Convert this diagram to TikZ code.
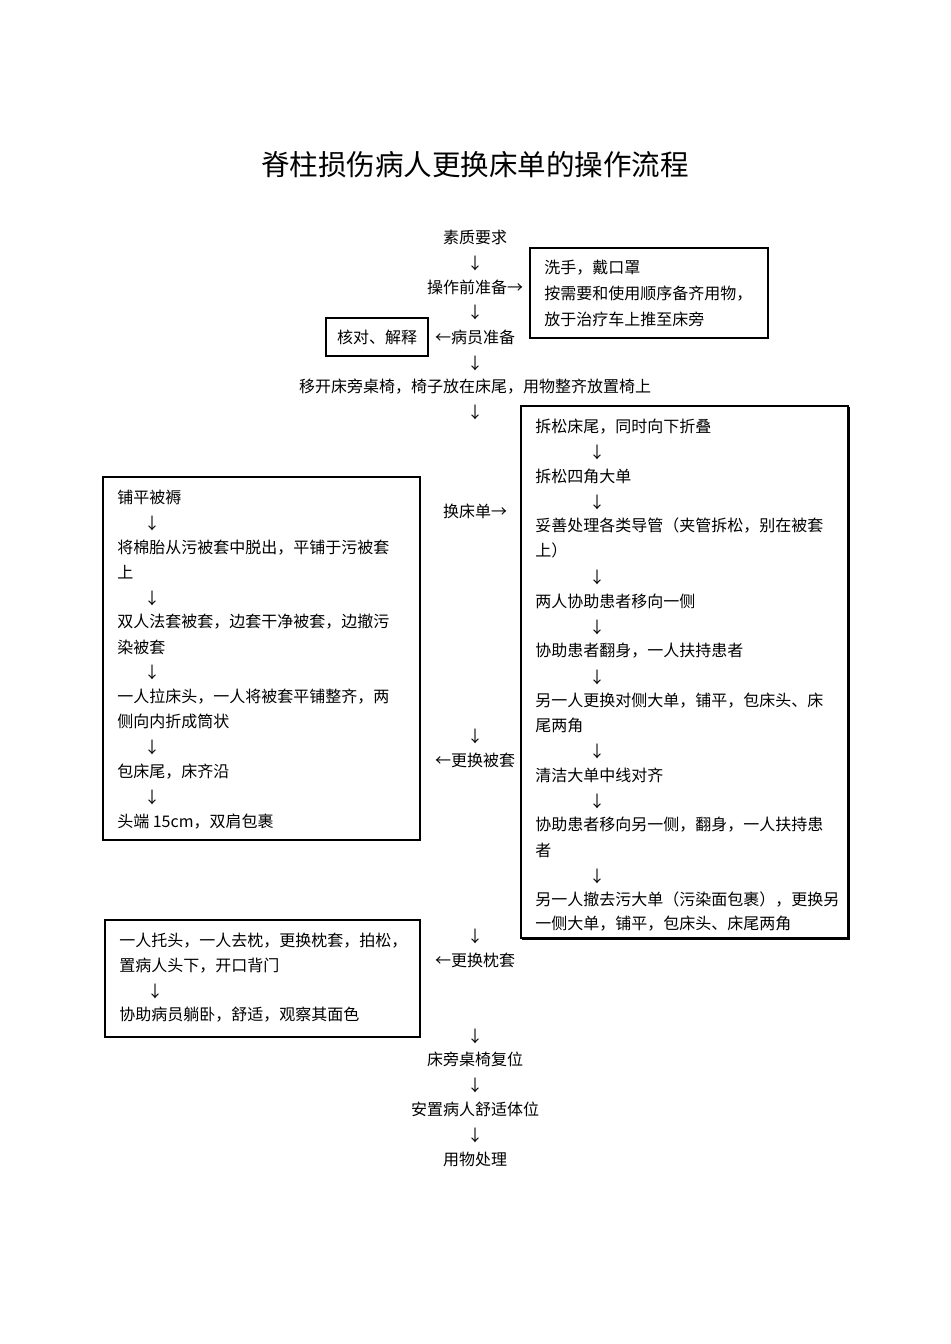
\documentclass[tikz,border=0pt]{standalone}
\usepackage{fontspec}
\setmainfont{Noto Sans CJK SC}
\begin{document}
\begin{tikzpicture}[x=0.75pt,y=-0.75pt,
  txt/.style={inner sep=0pt,font=\fontsize{12}{12}\selectfont},
  lt/.style={txt,anchor=west},
  frame/.style={draw,line width=0.8pt}]
\useasboundingbox[fill=white] (0,0) rectangle (950,1344);
\node[txt,font=\fontsize{21.4}{22}\selectfont] (title) at (475,165) {脊柱损伤病人更换床单的操作流程};
% centre column
\foreach \n/\y/\t in {c1/237/素质要求, c2/263/↓, c3/287/操作前准备→, c4/312/↓, c6/363/↓,
  c7/387/{移开床旁桌椅，椅子放在床尾，用物整齐放置椅上}, c8/412/↓, c9/511/换床单→,
  c10/736/↓, c11/760/←更换被套, c12/936/↓, c13/960/←更换枕套, c14/1036/↓,
  c15/1059/床旁桌椅复位, c16/1085/↓, c17/1109/安置病人舒适体位, c18/1135/↓, c19/1159/用物处理}
  \node[txt] (\n) at (475,\y) {\t};
\node[txt] (c5) at (475,337) {←病员准备};
% check box
\node[txt] (chk) at (377,337) {核对、解释};
\draw[frame] (326,318) rectangle (428,356);
% prep box
\draw[frame] (530,248) rectangle (768,338);
\foreach \n/\y/\t in {p1/268/{洗手，戴口罩}, p2/294/{按需要和使用顺序备齐用物，}, p3/319/放于治疗车上推至床旁}
  \node[lt] (\n) at (544,\y) {\t};
% right big box
\draw[frame] (521,406) rectangle (848,938);
\draw[line width=0.8pt] (849,407) -- (849,939) -- (522,939);
\foreach \n/\y/\t in {r1/427/{拆松床尾，同时向下折叠}, r3/476/拆松四角大单,
  r5/526/{妥善处理各类导管（夹管拆松，别在被套}, r6/550/上）, r8/601/两人协助患者移向一侧,
  r10/651/{协助患者翻身，一人扶持患者}, r12/701/{另一人更换对侧大单，铺平，包床头、床},
  r13/725/尾两角, r15/775/清洁大单中线对齐, r17/825/{协助患者移向另一侧，翻身，一人扶持患},
  r18/850/者, r20/899/{另一人撤去污大单（污染面包裹），更换另}, r21/924/{一侧大单，铺平，包床头、床尾两角}}
  \node[lt] (\n) at (535,\y) {\t};
\foreach \n/\y in {r2/452, r4/502, r7/577, r9/627, r11/677, r14/751, r16/801, r19/876}
  \node[txt] (\n) at (597,\y) {↓};
% left box 1
\draw[frame] (103,477) rectangle (420,840);
\foreach \n/\y/\t in {l1/497/铺平被褥, l3/548/{将棉胎从污被套中脱出，平铺于污被套}, l4/572/上,
  l6/622/{双人法套被套，边套干净被套，边撤污}, l7/647/染被套, l9/697/{一人拉床头，一人将被套平铺整齐，两},
  l10/721/侧向内折成筒状, l12/772/{包床尾，床齐沿}, l14/822/{头端 15cm，双肩包裹}}
  \node[lt] (\n) at (117,\y) {\t};
\foreach \n/\y in {l2/523, l5/598, l8/672, l11/747, l13/797}
  \node[txt] (\n) at (152,\y) {↓};
% left box 2
\draw[frame] (105,920) rectangle (420,1037);
\foreach \n/\y/\t in {m1/941/{一人托头，一人去枕，更换枕套，拍松，}, m2/966/{置病人头下，开口背门}, m4/1015/{协助病员躺卧，舒适，观察其面色}}
  \node[lt] (\n) at (119,\y) {\t};
\node[txt] (m3) at (155,991) {↓};
\end{tikzpicture}
\end{document}
